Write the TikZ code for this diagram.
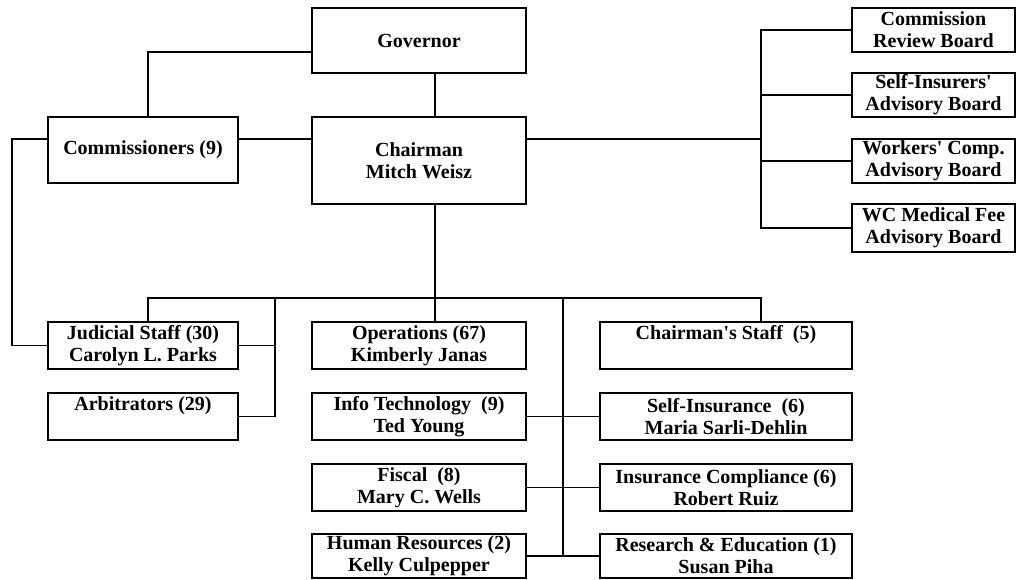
\documentclass[tikz,border=0pt]{standalone}
\usepackage{fontspec}
\setmainfont{Liberation Serif}[Ligatures=TeXOff]
\begin{document}
\begin{tikzpicture}[x=1pt,y=-1pt,
  box/.style={draw, line width=1.3pt, inner sep=0pt, align=center,
    font=\fontsize{20}{22}\selectfont\bfseries},
  wire/.style={line width=1.3pt}]
\useasboundingbox (0,0) rectangle (1016,579);
% top
\node[box,minimum width=214pt,minimum height=65pt] (gov) at (419,40.5) {Governor};
\node[box,minimum width=214pt,minimum height=87pt] (chair) at (419,160.5) {Chairman\\Mitch Weisz};
\node[box,minimum width=190pt,minimum height=66pt] (comm) at (143,150) {Commissioners (9)};
% boards
\node[box,minimum width=163pt,minimum height=44pt] (cb) at (933.5,30) {Commission\\Review Board};
\node[box,minimum width=163pt,minimum height=44pt] (sib) at (933.5,95) {Self-Insurers'\\Advisory Board};
\node[box,minimum width=163pt,minimum height=44pt] (wcb) at (933.5,161) {Workers' Comp.\\Advisory Board};
\node[box,minimum width=163pt,minimum height=48pt] (mfb) at (933.5,228) {WC Medical Fee\\Advisory Board};
% left column
\node[box,minimum width=190pt,minimum height=47pt] (jud) at (143,345.5) {Judicial Staff (30)\\Carolyn L. Parks};
\node[box,minimum width=190pt,minimum height=47pt] (arb) at (143,416.5) {Arbitrators (29)\\\phantom{(}};
% middle column
\node[box,minimum width=214pt,minimum height=47pt] (ops) at (419,345.5) {Operations (67)\\Kimberly Janas};
\node[box,minimum width=214pt,minimum height=47pt] (it) at (419,416.5) {Info Technology~~(9)\\Ted Young};
\node[box,minimum width=214pt,minimum height=47pt] (fis) at (419,487.5) {Fiscal~~(8)\\Mary C. Wells};
\node[box,minimum width=214pt,minimum height=44pt] (hr) at (419,556) {Human Resources (2)\\Kelly Culpepper};
% right column
\node[box,minimum width=252pt,minimum height=47pt] (cs) at (726,345.5) {Chairman's Staff~~(5)\\\phantom{(}};
\node[box,minimum width=252pt,minimum height=47pt] (si) at (726,416.5) {Self-Insurance~~(6)\\Maria Sarli-Dehlin};
\node[box,minimum width=252pt,minimum height=47pt] (ic) at (726,487.5) {Insurance Compliance (6)\\Robert Ruiz};
\node[box,minimum width=252pt,minimum height=44pt] (re) at (726,556) {Research \& Education (1)\\Susan Piha};
% helper coordinates
\coordinate (gc) at (148,52);
\coordinate (ymid) at (0,139);
\coordinate (rt) at (761,0);
\coordinate (lx) at (12,250);
\coordinate (cx) at (435,0);
\coordinate (bus) at (0,298);
\coordinate (jx) at (275,0);
\coordinate (sx) at (563,0);
% connectors
\draw[wire] (gov.west |- gc) -| (comm.north -| gc);
\draw[wire] (gov.south -| cx) -- (chair.north -| cx);
\draw[wire] (comm.east |- ymid) -- (chair.west |- ymid);
\draw[wire] (chair.east |- ymid) -- (rt |- ymid);
\draw[wire] (cb.west) -- (rt |- cb.west) -- (rt |- mfb.west) -- (mfb.west);
\draw[wire] (rt |- sib.west) -- (sib.west);
\draw[wire] (rt |- wcb.west) -- (wcb.west);
\draw[wire] (comm.west |- ymid) -| (lx) |- (jud.west);
\draw[wire] (chair.south -| cx) -- (ops.north -| cx);
\draw[wire] (jud.north -| gc) -- (gc |- bus) -- (rt |- bus) -- (cs.north -| rt);
\draw[wire] (jud.east) -- (jx |- jud.east);
\draw[wire] (jx |- bus) -- (jx |- arb.east) -- (arb.east);
\draw[wire] (sx |- bus) -- (sx |- re.west);
\draw[wire] (it.east) -- (si.west);
\draw[wire] (fis.east) -- (ic.west);
\draw[wire] (hr.east) -- (re.west);
\end{tikzpicture}
\end{document}
